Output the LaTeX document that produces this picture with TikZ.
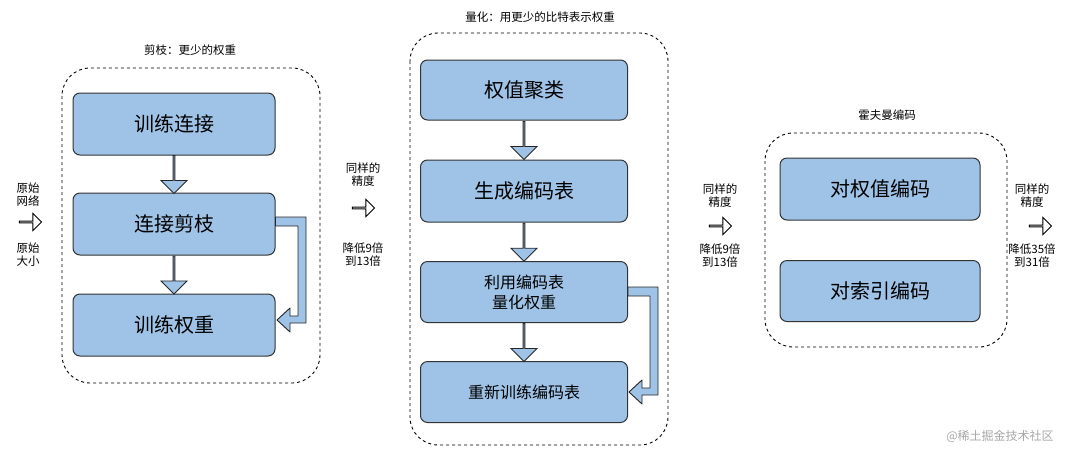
\documentclass[tikz,border=0pt]{standalone}
\usepackage{fontspec}
\setmainfont{Noto Sans CJK SC}
\usetikzlibrary{shapes.arrows,calc}
\definecolor{boxblue}{HTML}{9FC3E7}
\tikzset{
  stepbox/.style={draw=black!80, fill=boxblue, line width=1pt, rounded corners=7pt, font=\fontsize{20}{22}\selectfont},
  group/.style={draw, dashed, line width=0.9pt, rounded corners=28pt},
  flow/.style={single arrow, draw=black!85, fill=boxblue, line width=0.9pt, minimum height=38pt, minimum width=26pt, single arrow head extend=6pt, inner sep=0pt, rotate=-90},
  hollow/.style={single arrow, draw=black, fill=white, line width=0.9pt, minimum height=22pt, minimum width=17pt, single arrow head extend=4pt, inner sep=0pt},
  note/.style={font=\fontsize{11.5}{13}\selectfont, align=center},
  loopback/.style={draw=black!85, fill=boxblue, line width=0.9pt, line join=round}
}
\begin{document}
\begin{tikzpicture}[x=1pt,y=-1pt]
\useasboundingbox (0,0) rectangle (1080,451);
% pruning
\draw[group] (62,68) rectangle (320,383);
\node[note] (t1) at (190,50) {剪枝：更少的权重};
\node[stepbox, minimum width=202, minimum height=62] (a1) at (174,124) {训练连接};
\node[stepbox, minimum width=202, minimum height=62] (a2) at (174,224) {连接剪枝};
\node[stepbox, minimum width=202, minimum height=62] (a3) at (174,325) {训练权重};
\node[flow] at ($(a1.south)!0.5!(a2.north)$) {};
\node[flow] at ($(a2.south)!0.5!(a3.north)$) {};
\draw[loopback] (a2.east |- 0,217) -- (306,217) -- (306,323) -- (290,323) -- (290,332) -- (277,320)
  -- (290,308) -- (290,316) -- (298,316) -- (298,226) -- (a2.east |- 0,226) -- cycle;
% quantization
\draw[group] (410,33) rectangle (668,445);
\node[note] (t2) at (540,17) {量化：用更少的比特表示权重};
\node[stepbox, minimum width=207, minimum height=60] (b1) at (524,90) {权值聚类};
\node[stepbox, minimum width=207, minimum height=62] (b2) at (524,191) {生成编码表};
\node[stepbox, minimum width=207, minimum height=61, align=center, font=\fontsize{16}{20}\selectfont] (b3) at (524,292) {利用编码表\\量化权重};
\node[stepbox, minimum width=207, minimum height=61, font=\fontsize{16}{20}\selectfont] (b4) at (524,392) {重新训练编码表};
\node[flow] at ($(b1.south)!0.5!(b2.north)$) {};
\node[flow] at ($(b2.south)!0.5!(b3.north)$) {};
\node[flow] at ($(b3.south)!0.5!(b4.north)$) {};
\draw[loopback] (b3.east |- 0,287) -- (658,287) -- (658,395) -- (642,395) -- (642,404) -- (629,392)
  -- (642,380) -- (642,388) -- (650,388) -- (650,296) -- (b3.east |- 0,296) -- cycle;
% huffman
\draw[group] (765,133) rectangle (1007,347);
\node[note] (t3) at (887,115) {霍夫曼编码};
\node[stepbox, minimum width=200, minimum height=62] (c1) at (880,189) {对权值编码};
\node[stepbox, minimum width=200, minimum height=61] (c2) at (880,291) {对索引编码};
% side notes
\node[note] (n0) at (28,195) {原始\\网络};
\node[hollow] (h0) at (30,222) {};
\node[note] (n0b) at (28,255) {原始\\大小};
\node[note] (n1) at (363,175) {同样的\\精度};
\node[hollow] (h1) at (363,208) {};
\node[note] (n1b) at (363,255) {降低9倍\\到13倍};
\node[note] (n2) at (720,196) {同样的\\精度};
\node[hollow] (h2) at (720,226) {};
\node[note] (n2b) at (720,256) {降低9倍\\到13倍};
\node[note] (n3) at (1032,196) {同样的\\精度};
\node[hollow] (h3) at (1040,226) {};
\node[note] (n3b) at (1032,256) {降低35倍\\到31倍};
\node[font=\fontsize{12}{14}\selectfont, text=black!35] (wm) at (1000,436) {@稀土掘金技术社区};
\end{tikzpicture}
\end{document}
